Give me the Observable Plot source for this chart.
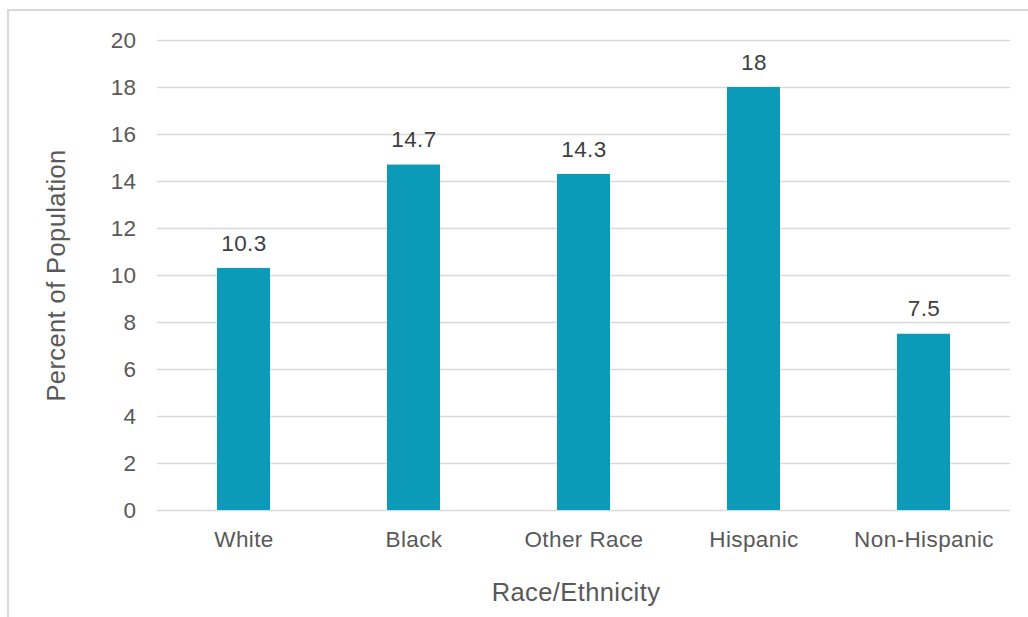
<!DOCTYPE html>
<html>
<head>
<meta charset="utf-8">
<script src="https://cdn.jsdelivr.net/npm/d3@7"></script>
<script src="https://cdn.jsdelivr.net/npm/@observablehq/plot@0.6"></script>
<style>
  html, body { margin: 0; padding: 0; background: #fff; overflow: hidden; }
  #wrap { position: relative; width: 1028px; height: 617px; }
  #frame { position: absolute; left: 7px; top: 9px; width: 1040px; height: 640px; border: 2px solid #d9d9d9; box-sizing: border-box; }
  #chart { position: absolute; left: 0; top: 0; }
  #chart svg text { letter-spacing: 0.4px; }
</style>
</head>
<body>
<div id="wrap">
  <div id="frame"></div>
  <div id="chart"></div>
</div>
<script>
const categories = ["White", "Black", "Other Race", "Hispanic", "Non-Hispanic"];
const values = [10.3, 14.7, 14.3, 18, 7.5];
const yTicks = [0, 2, 4, 6, 8, 10, 12, 14, 16, 18, 20];
const xTitle = "Race/Ethnicity";
const yTitle = "Percent of Population";

const data = categories.map((c, i) => ({category: c, value: values[i]}));
const font = "'Liberation Sans', Arial, sans-serif";
const textColor = "#595959";

const chart = Plot.plot({
  width: 1028,
  height: 617,
  marginLeft: 157,
  marginRight: 18,
  marginTop: 40,
  marginBottom: 107,
  style: {fontFamily: font, fontSize: "22px", color: textColor, background: "transparent"},
  x: {domain: categories, paddingInner: 0.69, paddingOuter: 0.345, label: null},
  y: {domain: [0, 20], label: null},
  marks: [
    Plot.gridY(yTicks, {stroke: "#d9d9d9", strokeOpacity: 1, strokeWidth: 1.5}),
    Plot.barY(data, {x: "category", y: "value", fill: "#0B9BB8"}),
    Plot.text(data, {x: "category", y: "value", text: d => String(d.value), dy: -25, fill: "#404040", fontSize: 22.5}),
    Plot.axisY(yTicks, {tickSize: 0, tickPadding: 21, fill: textColor, fontSize: 22.5, label: null}),
    Plot.axisX({tickSize: 0, tickPadding: 21, fill: textColor, fontSize: 22.5, label: null}),
    Plot.text([xTitle], {frameAnchor: "bottom", dy: 90, dx: -8, fill: textColor, fontSize: 25.5}),
    Plot.text([yTitle], {frameAnchor: "left", textAnchor: "middle", dx: -101, rotate: -90, fill: textColor, fontSize: 25.5})
  ]
});
document.getElementById("chart").appendChild(chart);
</script>
</body>
</html>
